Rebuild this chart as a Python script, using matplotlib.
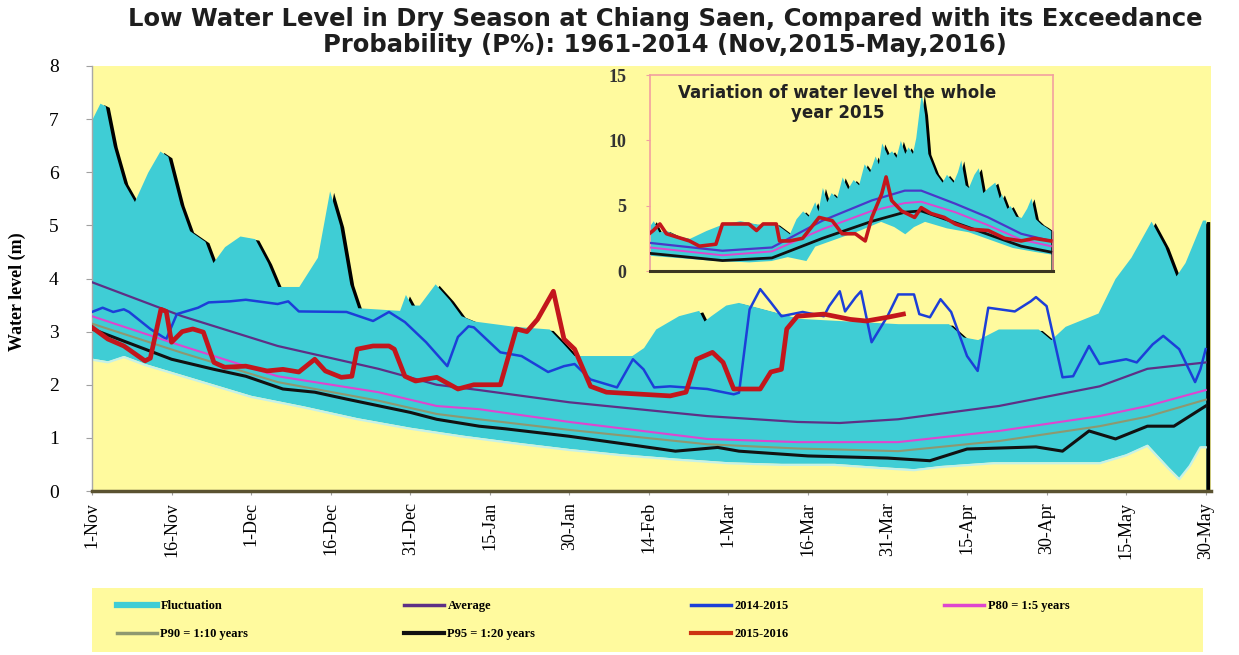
import numpy as np
import matplotlib
matplotlib.use("Agg")
import matplotlib.pyplot as plt
from matplotlib import transforms
from matplotlib.lines import Line2D

# ---------------- data: dry season Nov 2015 - May 2016 (day 0 = 1-Nov) ----------------
tick_days = [0, 15, 30, 45, 60, 75, 90, 105, 120, 135, 150, 165, 180, 195, 210]
tick_labels = ['1-Nov', '16-Nov', '1-Dec', '16-Dec', '31-Dec', '15-Jan', '30-Jan', '14-Feb',
               '1-Mar', '16-Mar', '31-Mar', '15-Apr', '30-Apr', '15-May', '30-May']

fluc_max_days = [0, 1.5, 2.5, 4, 6, 8, 10.5, 12.8, 14.3, 16.6, 18.4, 21.3, 22.8, 25, 27.9, 30.7,
                 33.1, 35, 39, 42.5, 44.8, 46.7, 48.6, 50.1, 58, 59.1, 60.2, 61.7, 64.7, 67.4,
                 69.6, 72, 79.6, 86.2, 88.6, 90.9, 101.8, 104, 106.3, 110.6, 114.4, 115.4, 116.7,
                 119.5, 121.9, 125.7, 133.2, 142.6, 152, 161.5, 164.3, 167, 170.9, 178.4, 180.8,
                 183.5, 189.7, 192.9, 195.9, 199.7, 202.3, 204.4, 206.1, 209.4, 210]
fluc_max = [7.0, 7.3, 7.25, 6.5, 5.8, 5.45, 6.0, 6.4, 6.3, 5.4, 4.9, 4.7, 4.3, 4.6, 4.8, 4.75,
            4.3, 3.85, 3.85, 4.4, 5.65, 5.0, 3.9, 3.45, 3.4, 3.7, 3.5, 3.5, 3.9, 3.6,
            3.3, 3.2, 3.1, 3.05, 2.8, 2.55, 2.55, 2.7, 3.05, 3.3, 3.4, 3.2, 3.3,
            3.5, 3.55, 3.45, 3.25, 3.2, 3.15, 3.15, 2.9, 2.85, 3.05, 3.05, 2.85,
            3.1, 3.35, 4.0, 4.4, 5.08, 4.6, 4.05, 4.3, 5.1, 5.1]

fluc_min_days = [0, 3, 6, 10, 15, 20, 30, 40, 50, 60, 70, 80, 90, 100, 110, 120, 130, 140, 150,
                 155, 160, 170, 180, 190, 195, 199, 203, 205, 207, 209, 210]
fluc_min = [2.5, 2.45, 2.55, 2.4, 2.25, 2.1, 1.8, 1.6, 1.38, 1.2, 1.05, 0.92, 0.8, 0.7, 0.62,
            0.55, 0.52, 0.52, 0.45, 0.42, 0.48, 0.55, 0.55, 0.55, 0.7, 0.88, 0.45, 0.25, 0.5,
            0.85, 0.85]

curve_days = [0, 17, 35, 54, 65, 73, 90, 116, 133, 141, 152, 171, 190, 199, 210]
average = [3.93, 3.29, 2.73, 2.3, 2.0, 1.9, 1.67, 1.41, 1.30, 1.28, 1.35, 1.6, 1.97, 2.3, 2.42]
p80 = [3.29, 2.73, 2.16, 1.86, 1.6, 1.54, 1.3, 0.98, 0.92, 0.92, 0.92, 1.13, 1.41, 1.6, 1.9]
p90 = [3.15, 2.6, 2.05, 1.7, 1.45, 1.35, 1.15, 0.88, 0.8, 0.78, 0.75, 0.94, 1.22, 1.4, 1.72]

p95_days = [0, 10, 15, 23, 29, 36, 42, 48, 60, 65, 73, 78, 90, 103, 110, 118, 122, 135, 150,
            158, 165, 178, 183, 188, 193, 199, 204, 210]
p95 = [3.05, 2.67, 2.48, 2.29, 2.16, 1.92, 1.86, 1.73, 1.48, 1.35, 1.22, 1.17, 1.03, 0.85,
       0.75, 0.82, 0.75, 0.66, 0.62, 0.57, 0.79, 0.83, 0.75, 1.13, 0.98, 1.22, 1.22, 1.6]

y1415_days = [0, 2, 4, 6, 7, 11, 14, 16, 20, 22, 26, 29, 35, 37, 39, 48, 53, 56, 59, 63,
              67, 69, 71, 72, 77, 81, 86, 89, 91, 94, 99, 102, 104, 106, 109, 116, 121, 122,
              124, 126, 128, 130, 134, 138, 139, 141, 142, 144, 145, 147, 150, 152, 155, 156,
              158, 160, 162, 165, 167, 169, 174, 177, 178, 180, 183, 185, 188, 190, 195, 197,
              200, 202, 205, 208, 209, 210]
y1415 = [3.37, 3.45, 3.37, 3.42, 3.37, 3.05, 2.86, 3.33, 3.45, 3.55, 3.57, 3.6, 3.52, 3.57,
         3.38, 3.37, 3.2, 3.37, 3.18, 2.8, 2.35, 2.9, 3.1, 3.08, 2.61, 2.54, 2.24, 2.35, 2.39,
         2.1, 1.95, 2.48, 2.29, 1.95, 1.97, 1.92, 1.82, 1.85, 3.42, 3.8, 3.55, 3.29, 3.37, 3.29,
         3.48, 3.76, 3.38, 3.65, 3.76, 2.8, 3.29, 3.7, 3.7, 3.33, 3.27, 3.61, 3.37, 2.54, 2.26,
         3.45, 3.38, 3.57, 3.65, 3.48, 2.14, 2.16, 2.73, 2.39, 2.48, 2.42, 2.76, 2.92, 2.67,
         2.05, 2.29, 2.67]

y1516_days = [0, 3, 6, 10, 11, 13, 14, 15, 17, 19, 21, 23, 25, 29, 33, 36, 39, 42, 44, 47,
              49, 50, 53, 56, 57, 59, 61, 65, 69, 72, 77, 80, 82, 84, 87, 89, 91, 94, 97, 109,
              112, 114, 117, 119, 121, 126, 128, 130, 131, 133, 138, 143, 146, 150, 153]
y1516 = [3.08, 2.86, 2.73, 2.45, 2.5, 3.42, 3.38, 2.8, 3.0, 3.05, 2.99, 2.42, 2.33, 2.35, 2.26,
         2.29, 2.24, 2.48, 2.26, 2.14, 2.16, 2.67, 2.73, 2.73, 2.67, 2.16, 2.07, 2.14, 1.92, 2.0,
         2.0, 3.05, 3.0, 3.23, 3.76, 2.86, 2.67, 1.97, 1.86, 1.79, 1.86, 2.48, 2.61, 2.42, 1.92,
         1.92, 2.24, 2.29, 3.05, 3.29, 3.33, 3.23, 3.2, 3.27, 3.33]

# ---------------- data: whole year 2015 (day 0 = 1-Jan) ----------------
yr_max_days = [0, 3, 8, 15, 25, 36, 51, 66, 82, 97, 115, 127, 133, 139, 144, 150, 153, 157, 161,
               165, 170, 175, 180, 185, 190, 195, 200, 205, 208, 211, 216, 220, 224, 228, 232,
               235, 239, 242, 247, 250, 253, 260, 266, 270, 276, 280, 283, 287, 290, 295, 299,
               303, 308, 314, 318, 320, 325, 328, 333, 338, 343, 347, 351, 356, 360, 365]
yr_max = [3.5, 3.85, 3.0, 3.1, 2.7, 2.5, 3.1, 3.6, 3.85, 3.6, 3.6, 2.85, 4.0, 4.6, 4.2, 5.3, 4.6,
          6.4, 5.3, 6.0, 5.6, 7.2, 6.3, 7.0, 6.6, 8.2, 7.6, 8.8, 8.2, 9.8, 8.9, 9.2, 8.7, 10.0,
          9.0, 9.5, 9.0, 10.2, 13.6, 12.0, 9.0, 7.5, 6.8, 7.4, 6.8, 7.6, 8.5, 6.6, 6.4, 7.4, 7.9,
          6.0, 6.4, 6.8, 5.6, 5.9, 4.8, 5.0, 4.2, 4.1, 4.8, 5.6, 4.0, 3.6, 3.4, 3.1]
yr_min_days = [0, 30, 60, 90, 110, 125, 142, 150, 170, 190, 210, 222, 232, 240, 250, 270, 290,
               310, 330, 350, 365]
yr_min = [1.2, 1.0, 0.8, 0.7, 0.8, 1.1, 0.8, 1.9, 2.5, 3.1, 3.8, 3.4, 2.85, 3.4, 3.8, 3.3, 3.0,
          2.4, 1.8, 1.5, 1.3]
yr_curve_days = [0, 66, 111, 157, 202, 232, 247, 278, 308, 338, 365]
yr_average = [2.15, 1.55, 1.8, 3.85, 5.4, 6.15, 6.15, 5.15, 4.1, 2.85, 2.3]
yr_p80 = [1.8, 1.2, 1.5, 3.2, 4.6, 5.2, 5.3, 4.5, 3.5, 2.4, 1.9]
yr_p95 = [1.35, 0.8, 1.0, 2.5, 3.8, 4.5, 4.6, 3.7, 2.8, 1.9, 1.45]
yr2015_days = [0, 3, 9, 15, 36, 45, 60, 66, 90, 97, 103, 115, 118, 127, 139, 154, 166, 175, 187,
               196, 202, 211, 215, 220, 229, 241, 247, 256, 268, 278, 292, 308, 323, 338, 350, 365]
yr2015 = [2.9, 3.1, 3.6, 2.85, 2.3, 1.9, 2.05, 3.6, 3.6, 3.1, 3.6, 3.6, 2.3, 2.3, 2.5, 4.1, 3.85,
          2.85, 2.85, 2.3, 4.1, 5.9, 7.2, 5.4, 4.6, 4.1, 4.85, 4.4, 4.1, 3.6, 3.2, 3.1, 2.5, 2.3,
          2.5, 2.3]

# ---------------- styling ----------------
BG = '#fffa9e'
CYAN = '#3fcdd5'
C_AVG = '#5e2f86'
C_1415 = '#1c3fd8'
C_P80 = '#de45cf'
C_P90 = '#8e9870'
C_P95 = '#111111'
C_1516 = '#c3161c'
SERIF = 'Liberation Serif'

fig = plt.figure(figsize=(12.39, 6.55), dpi=100)
fig.patch.set_facecolor('white')


def draw_band(ax, up_d, up_v, lo_d, lo_v, dx, dy, glow_lw):
    """Cyan fluctuation area with a dark drop shadow on its upper edge."""
    shadow = transforms.offset_copy(ax.transData, fig=fig, x=dx, y=dy, units='dots')
    ax.fill_between(up_d, 0, up_v, color='black', lw=0, transform=shadow, zorder=1.0)
    ax.fill_between(up_d, 0, up_v, color=CYAN, lw=0, zorder=1.1)
    ax.fill_between(lo_d, 0, lo_v, color=BG, lw=0, zorder=1.2)
    if glow_lw:
        glow = transforms.offset_copy(ax.transData, fig=fig, x=0, y=-1.5, units='dots')
        ax.plot(lo_d, lo_v, color='#c6f1e8', lw=glow_lw, transform=glow, zorder=1.3)


# ---------------- main axes ----------------
ax = fig.add_axes([92 / 1239, 1 - 491 / 655, 1119 / 1239, 425 / 655])
ax.set_facecolor(BG)
draw_band(ax, fluc_max_days, fluc_max, fluc_min_days, fluc_min, 4, -1.5, 1.6)

ax.plot(curve_days, average, color=C_AVG, lw=1.6, zorder=3)
ax.plot(y1415_days, y1415, color=C_1415, lw=1.8, zorder=3.1)
ax.plot(curve_days, p80, color=C_P80, lw=1.5, zorder=3.2)
ax.plot(curve_days, p90, color=C_P90, lw=1.5, zorder=3.3)
ax.plot(p95_days, p95, color=C_P95, lw=2.2, zorder=3.4)
ax.plot(y1516_days, y1516, color=C_1516, lw=3.4, zorder=3.5, solid_joinstyle='round')

ax.set_xlim(0, 211)
ax.set_ylim(0, 8)
ax.set_xticks(tick_days)
ax.set_xticklabels(tick_labels, rotation=90, fontsize=13, family=SERIF)
ax.set_yticks(range(0, 9))
ax.set_yticklabels([str(v) for v in range(0, 9)], fontsize=14, family=SERIF)
ax.tick_params(axis='y', length=4, color='#a0a0a0', pad=20)
ax.tick_params(axis='x', length=3, color='#a0a0a0', pad=5)
ax.set_ylabel('Water level (m)', fontsize=13, fontweight='bold', family=SERIF)
ax.yaxis.set_label_coords(-0.059, 0.47)
for s in ('top', 'right'):
    ax.spines[s].set_visible(False)
ax.spines['left'].set_color('#a8a8a8')
ax.spines['left'].set_linewidth(1.0)
ax.spines['bottom'].set_color('#5a5230')
ax.spines['bottom'].set_linewidth(2.5)

fig.text(0.537, 0.99,
         'Low Water Level in Dry Season at Chiang Saen, Compared with its Exceedance\n'
         'Probability (P%): 1961-2014 (Nov,2015-May,2016)',
         ha='center', va='top', fontsize=17.5, fontweight='bold', family='DejaVu Sans',
         linespacing=1.15, color='#1e1e1e')

# ---------------- inset: whole year 2015 ----------------
ai = fig.add_axes([650 / 1239, 1 - 271 / 655, 403 / 1239, 196 / 655])
ai.set_facecolor(BG)
draw_band(ai, yr_max_days, yr_max, yr_min_days, yr_min, 3, -1, 0)
ai.plot(yr_curve_days, yr_p95, color=C_P95, lw=2.0, zorder=3)
ai.plot(yr_curve_days, yr_p80, color=C_P80, lw=1.4, zorder=3.1)
ai.plot(yr_curve_days, yr_average, color='#4a38c8', lw=1.6, zorder=3.2)
ai.plot(yr2015_days, yr2015, color=C_1516, lw=2.6, zorder=3.5)
ai.set_xlim(0, 367)
ai.set_ylim(0, 15)
ai.set_xticks([])
ai.set_yticks([0, 5, 10, 15])
ai.set_yticklabels(['0', '5', '10', '15'], fontsize=13, fontweight='bold', family=SERIF,
                   color='#333333')
ai.tick_params(axis='y', length=3, color='#f0a0a0', pad=14)
for s in ('top', 'right', 'left'):
    ai.spines[s].set_color('#f2a0a0')
    ai.spines[s].set_linewidth(1.2)
ai.spines['bottom'].set_color('#3c3520')
ai.spines['bottom'].set_linewidth(2.2)
ai.text(0.465, 0.955, 'Variation of water level the whole\nyear 2015', transform=ai.transAxes,
        ha='center', va='top', fontsize=12, fontweight='bold', family='DejaVu Sans',
        linespacing=1.15, color='#222222', zorder=5)

# ---------------- legend strip ----------------
al = fig.add_axes([92 / 1239, 3 / 655, 1111 / 1239, 64 / 655])
al.set_facecolor(BG)
al.set_xticks([])
al.set_yticks([])
for s in al.spines.values():
    s.set_visible(False)
h_fluc = Line2D([], [], color=CYAN, lw=4.5)
h_avg = Line2D([], [], color=C_AVG, lw=2.5)
h_1415 = Line2D([], [], color=C_1415, lw=2.5)
h_p80 = Line2D([], [], color=C_P80, lw=2.5)
h_p90 = Line2D([], [], color=C_P90, lw=2.5)
h_p95 = Line2D([], [], color=C_P95, lw=3)
h_1516 = Line2D([], [], color='#cc3311', lw=3)
# legend columns are filled top-to-bottom, so entries are listed column by column
handles = [h_fluc, h_p90, h_avg, h_p95, h_1415, h_1516, h_p80]
labels = ['Fluctuation', 'P90 = 1:10 years', 'Average', 'P95 = 1:20 years',
          '2014-2015', '2015-2016', 'P80 = 1:5 years']
al.legend(handles, labels, ncol=4, loc='center', mode='expand',
          bbox_to_anchor=(0.012, 0.0, 0.878, 1.0), frameon=False, handlelength=3.2,
          handletextpad=0.3, labelspacing=1.3,
          prop={'family': SERIF, 'weight': 'bold', 'size': 9})

fig.savefig('out.png', dpi=100, facecolor='white')
